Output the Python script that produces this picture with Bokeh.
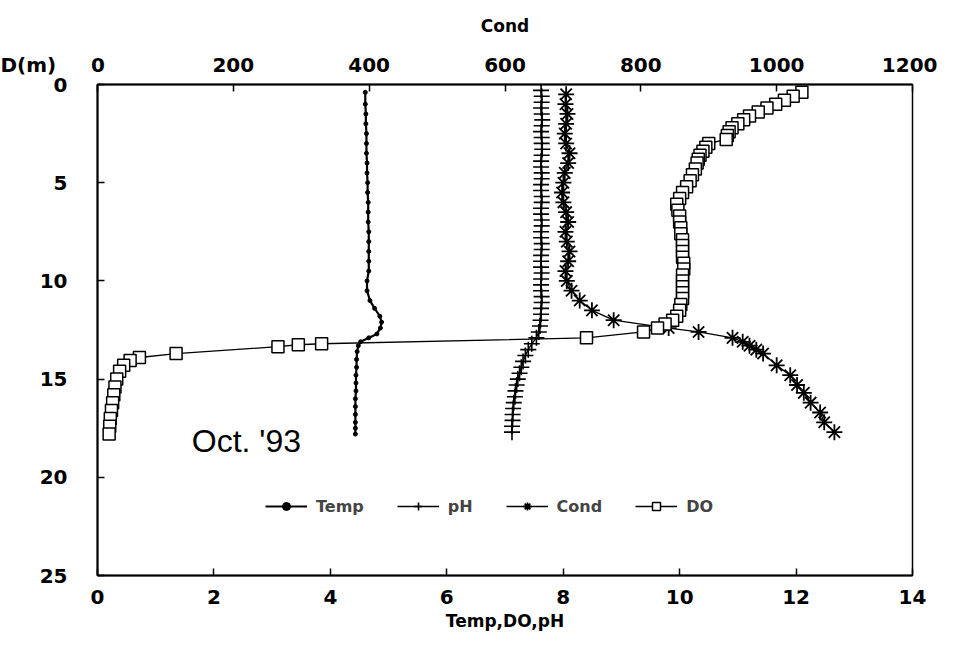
from bokeh.plotting import figure
from bokeh.models import Range1d, LinearAxis, Legend, LegendItem, Label, FixedTicker
from bokeh.embed import file_html
from bokeh.resources import INLINE

# ---------------- data ----------------
temp_depth = [0.4, 1.0, 1.5, 2.0, 2.5, 3.0, 3.5, 4.0, 4.5, 5.0, 5.5, 6.0, 6.5, 7.0, 7.5, 8.0,
              8.5, 9.0, 9.5, 10.0, 10.5, 11.0, 11.4, 11.8, 12.1, 12.4, 12.7, 12.9, 13.1, 13.3,
              13.6, 14.0, 14.4, 14.8, 15.2, 15.6, 16.0, 16.4, 16.8, 17.2, 17.5, 17.8]
temp_val = [4.60, 4.60, 4.61, 4.61, 4.62, 4.62, 4.62, 4.63, 4.63, 4.64, 4.64, 4.65, 4.65, 4.65, 4.66, 4.66,
            4.66, 4.66, 4.66, 4.63, 4.63, 4.68, 4.76, 4.85, 4.88, 4.86, 4.80, 4.66, 4.52, 4.48,
            4.46, 4.45, 4.45, 4.44, 4.44, 4.44, 4.43, 4.43, 4.43, 4.43, 4.43, 4.43]

ph_depth = [0.3, 0.6, 0.9, 1.2, 1.5, 1.8, 2.1, 2.4, 2.7, 3.0, 3.3, 3.6, 3.9, 4.2, 4.5, 4.8, 5.1,
            5.4, 5.7, 6.0, 6.3, 6.6, 6.9, 7.2, 7.5, 7.8, 8.1, 8.4, 8.7, 9.0, 9.3, 9.6, 9.9, 10.2,
            10.5, 10.8, 11.1, 11.4, 11.7, 12.0, 12.3, 12.6, 12.9, 13.2, 13.5, 13.8, 14.1, 14.4,
            14.7, 15.0, 15.3, 15.6, 15.9, 16.2, 16.5, 16.8, 17.1, 17.4, 17.7]
ph_val = [7.62, 7.63, 7.63, 7.62, 7.63, 7.64, 7.63, 7.62, 7.63, 7.63, 7.64, 7.63, 7.62, 7.62, 7.63, 7.63, 7.62,
          7.62, 7.63, 7.63, 7.62, 7.62, 7.63, 7.63, 7.62, 7.62, 7.63, 7.63, 7.62, 7.62, 7.62, 7.63, 7.62, 7.62,
          7.62, 7.63, 7.63, 7.62, 7.62, 7.61, 7.60, 7.58, 7.54, 7.46, 7.40, 7.35, 7.31, 7.28,
          7.25, 7.22, 7.20, 7.18, 7.17, 7.15, 7.14, 7.13, 7.13, 7.12, 7.12]

cond_depth = [0.5, 1.0, 1.5, 2.0, 2.5, 3.0, 3.5, 4.0, 4.5, 5.0, 5.5, 6.0, 6.5, 7.0, 7.5, 8.0, 8.5,
              9.0, 9.5, 10.0, 10.5, 11.0, 11.5, 12.0, 12.4, 12.6, 12.9, 13.1, 13.3, 13.5, 13.7,
              14.3, 14.8, 15.3, 15.7, 16.2, 16.7, 17.2, 17.7]
cond_val = [690, 689, 692, 690, 688, 690, 695, 693, 688, 686, 684, 686, 690, 693, 689, 691, 695,
            693, 689, 691, 698, 710, 728, 760, 841, 885, 935, 950, 960, 970, 980,
            1000, 1020, 1030, 1040, 1050, 1064, 1070, 1085]

do_depth = [0.4, 0.6, 0.8, 1.0, 1.2, 1.4, 1.6, 1.8, 2.0, 2.2, 2.4, 2.6, 2.8, 3.0, 3.2, 3.4, 3.6,
            3.8, 4.0, 4.3, 4.6, 4.9, 5.2, 5.5, 5.8, 6.1, 6.4, 6.7, 7.0, 7.3, 7.6, 7.9, 8.2, 8.5,
            8.8, 9.1, 9.4, 9.7, 10.0, 10.3, 10.6, 10.9, 11.2, 11.5, 11.8, 12.0, 12.2, 12.4, 12.6,
            12.9, 13.2, 13.25, 13.35, 13.7, 13.9, 14.05, 14.3, 14.6, 15.0, 15.4, 15.8, 16.2,
            16.6, 17.0, 17.4, 17.8]
do_val = [12.10, 11.95, 11.80, 11.65, 11.50, 11.35, 11.20, 11.10, 11.00, 10.90, 10.85, 10.82, 10.80, 10.50, 10.45, 10.40, 10.35,
          10.32, 10.30, 10.27, 10.22, 10.18, 10.12, 10.05, 10.00, 9.95, 9.97, 10.00, 10.00, 10.02, 10.02, 10.05, 10.05, 10.05,
          10.05, 10.07, 10.07, 10.05, 10.05, 10.05, 10.05, 10.05, 10.02, 10.00, 9.95, 9.88, 9.75, 9.62, 9.38,
          8.40, 3.85, 3.45, 3.10, 1.35, 0.72, 0.56, 0.45, 0.38, 0.33, 0.30, 0.28, 0.26,
          0.24, 0.22, 0.21, 0.20]

bottom_ticks = [0, 2, 4, 6, 8, 10, 12, 14]
top_ticks = [0, 200, 400, 600, 800, 1000, 1200]
left_ticks = [0, 5, 10, 15, 20, 25]

FONT = "DejaVu Sans"
NB = "\u00a0"

# ---------------- figure ----------------
p = figure(width=937, height=640, x_range=Range1d(0, 14), y_range=Range1d(25, 0),
           output_backend="svg", toolbar_location=None,
           min_border_left=97, min_border_right=25, min_border_top=84, min_border_bottom=65)
p.extra_x_ranges = {"cond": Range1d(0, 1200)}
p.xgrid.visible = False
p.ygrid.visible = False
p.outline_line_color = "black"
p.outline_line_width = 1.5
p.background_fill_color = "white"
p.border_fill_color = "white"

bottom_axis = p.below[0]
left_axis = p.left[0]
top_axis = LinearAxis(x_range_name="cond", axis_label="Cond")
p.add_layout(top_axis, "above")

bottom_axis.ticker = FixedTicker(ticks=bottom_ticks)
bottom_axis.axis_label = "Temp,DO,pH"
top_axis.ticker = FixedTicker(ticks=top_ticks)
left_axis.ticker = FixedTicker(ticks=left_ticks)
# the "D(m)" caption sits on the same line as the top tick labels, left of "0"
top_axis.major_label_overrides = {0: "D(m)" + NB * 5 + "0" + NB * 13}

for ax in [bottom_axis, top_axis, left_axis]:
    ax.axis_line_color = "black"
    ax.axis_line_width = 2
    ax.major_tick_in = 7
    ax.major_tick_out = 0
    ax.minor_tick_in = 0
    ax.minor_tick_out = 0
    ax.major_tick_line_width = 1.5
    ax.major_tick_line_color = "black"
    ax.major_label_text_font = FONT
    ax.major_label_text_font_style = "bold"
    ax.major_label_text_font_size = "20px"
    ax.major_label_text_color = "black"
    ax.axis_label_text_font = FONT
    ax.axis_label_text_font_style = "bold"
    ax.axis_label_text_font_size = "17px"
    ax.axis_label_text_color = "black"

bottom_axis.major_label_standoff = 14
bottom_axis.axis_label_standoff = 4
top_axis.major_label_standoff = 8
top_axis.axis_label_standoff = 14
left_axis.major_label_standoff = 30

# ---------------- series ----------------
lw = 1.3
t_line = p.line(temp_val, temp_depth, line_color="black", line_width=2.2)
t_pts = p.scatter(temp_val, temp_depth, marker="circle", size=4, color="black")

ph_line = p.line(ph_val, ph_depth, line_color="black", line_width=lw)
ph_pts = p.scatter(ph_val, ph_depth, marker="cross", size=16, line_color="black", line_width=1.6)

c_line = p.line(cond_val, cond_depth, line_color="black", line_width=lw, x_range_name="cond")
c_pts = p.scatter(cond_val, cond_depth, marker="asterisk", size=16, line_color="black",
                  line_width=1.8, x_range_name="cond")

do_line = p.line(do_val, do_depth, line_color="black", line_width=lw)
do_pts = p.scatter(do_val, do_depth, marker="square", size=12, line_color="black",
                   fill_color="white", line_width=1.5)

legend = Legend(items=[
    LegendItem(label="Temp", renderers=[t_line, t_pts]),
    LegendItem(label="pH", renderers=[ph_line, ph_pts]),
    LegendItem(label="Cond", renderers=[c_line, c_pts]),
    LegendItem(label="DO", renderers=[do_line, do_pts]),
], orientation="horizontal", location=(168, 59))
legend.glyph_width = 42
legend.label_standoff = 9
legend.spacing = 33
legend.padding = 0
legend.margin = 0
legend.border_line_alpha = 0
legend.background_fill_alpha = 0
legend.label_text_font = FONT
legend.label_text_font_style = "bold"
legend.label_text_font_size = "16px"
p.add_layout(legend)

p.add_layout(Label(x=1.62, y=18.13, text="Oct. '93", text_font="Liberation Sans",
                   text_font_size="32px", text_color="black", text_baseline="alphabetic"))

open("out.html", "w").write(file_html(p, INLINE))
